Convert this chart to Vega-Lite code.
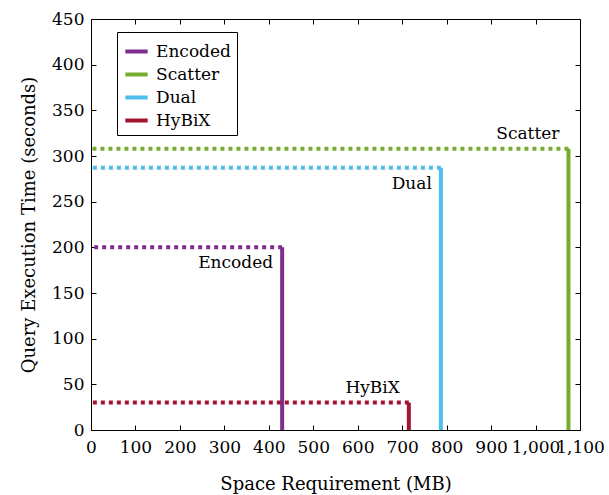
{
  "$schema": "https://vega.github.io/schema/vega-lite/v6.json",
  "width": 489,
  "height": 411,
  "autosize": {"type": "none"},
  "padding": {"left": 91, "top": 19, "right": 29, "bottom": 65},
  "background": "white",
  "config": {
    "font": "DejaVu Serif",
    "view": {"stroke": "black", "strokeWidth": 1},
    "axis": {
      "domainColor": "black",
      "tickColor": "black",
      "labelColor": "black",
      "titleColor": "black",
      "labelFont": "DejaVu Serif",
      "titleFont": "DejaVu Serif",
      "labelFontSize": 17,
      "titleFontSize": 18,
      "titleFontWeight": "normal",
      "grid": false,
      "tickSize": -5,
      "labelOverlap": false,
      "labelBound": false,
      "labelFlush": false
    },
    "legend": {
      "labelFont": "DejaVu Serif",
      "labelFontSize": 17,
      "labelColor": "black"
    }
  },
  "data": {
    "values": [
      {"name": "Encoded", "space": 430, "time": 200},
      {"name": "Scatter", "space": 1074, "time": 308},
      {"name": "Dual", "space": 787, "time": 287},
      {"name": "HyBiX", "space": 715, "time": 30}
    ]
  },
  "resolve": {"axis": {"x": "independent", "y": "independent"}},
  "layer": [
    {
      "mark": {"type": "rule", "strokeWidth": 4},
      "encoding": {
        "x": {
          "field": "space", "type": "quantitative",
          "scale": {"domain": [0, 1100], "nice": false, "zero": false},
          "axis": {"orient": "bottom", "title": "Space Requirement (MB)", "format": ",d", "values": [0,100,200,300,400,500,600,700,800,900,1000,1100], "labelPadding": 14, "titlePadding": 20}
        },
        "y": {
          "field": "time", "type": "quantitative",
          "scale": {"domain": [0, 450], "nice": false},
          "axis": {"orient": "left", "title": "Query Execution Time (seconds)", "values": [0,50,100,150,200,250,300,350,400,450], "labelPadding": 12, "titlePadding": 13}
        },
        "y2": {"datum": 0},
        "color": {
          "field": "name", "type": "nominal",
          "scale": {"domain": ["Encoded", "Scatter", "Dual", "HyBiX"], "range": ["#7E2F8E", "#77AC30", "#4DBEEE", "#A2142F"]},
          "legend": {
            "title": null,
            "orient": "none",
            "legendX": 26,
            "legendY": 13,
            "symbolType": "stroke",
            "symbolStrokeWidth": 4,
            "symbolSize": 500,
            "strokeColor": "black",
            "padding": 6,
            "rowPadding": 1,
            "labelOffset": 6
          }
        }
      }
    },
    {
      "mark": {"type": "rule", "strokeWidth": 4, "strokeDash": [4, 4]},
      "encoding": {
        "x": {"field": "space", "type": "quantitative", "axis": null},
        "x2": {"datum": 0},
        "y": {"field": "time", "type": "quantitative", "axis": null},
        "color": {"field": "name", "type": "nominal"}
      }
    },
    {
      "mark": {"type": "point", "opacity": 0},
      "encoding": {
        "x": {"field": "space", "type": "quantitative", "axis": {"orient": "top", "labels": false, "title": null, "domain": false, "values": [0,100,200,300,400,500,600,700,800,900,1000,1100]}},
        "y": {"field": "time", "type": "quantitative", "axis": {"orient": "right", "labels": false, "title": null, "domain": false, "values": [0,50,100,150,200,250,300,350,400,450]}}
      }
    },
    {
      "transform": [{"filter": {"field": "name", "oneOf": ["Scatter", "HyBiX"]}}],
      "mark": {"type": "text", "align": "right", "baseline": "bottom", "dx": -9, "dy": -6, "fontSize": 17, "font": "DejaVu Serif", "color": "black"},
      "encoding": {
        "x": {"field": "space", "type": "quantitative", "axis": null},
        "y": {"field": "time", "type": "quantitative", "axis": null},
        "text": {"field": "name"}
      }
    },
    {
      "transform": [{"filter": {"field": "name", "oneOf": ["Encoded", "Dual"]}}],
      "mark": {"type": "text", "align": "right", "baseline": "top", "dx": -9, "dy": 8, "fontSize": 17, "font": "DejaVu Serif", "color": "black"},
      "encoding": {
        "x": {"field": "space", "type": "quantitative", "axis": null},
        "y": {"field": "time", "type": "quantitative", "axis": null},
        "text": {"field": "name"}
      }
    }
  ]
}
